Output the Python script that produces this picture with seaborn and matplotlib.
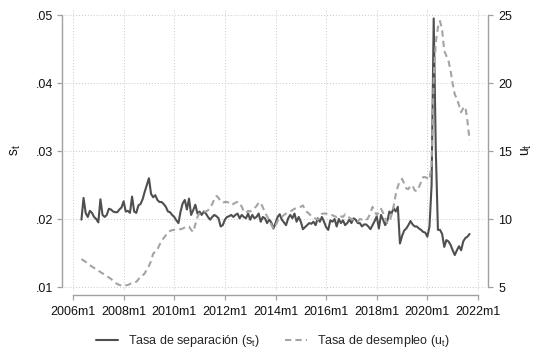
import numpy as np
import pandas as pd
import matplotlib
matplotlib.use('Agg')
import matplotlib.pyplot as plt
import seaborn as sns

# ---------------- data ----------------
start_month = '2006-05-01'

sep_rate = [
    .0199, .0231, .0209, .0203, .0212, .0209, .0203, .0200, .0195, .0229,
    .0206, .0203, .0206, .0215, .0214, .0211, .0210, .0210, .0214, .0217,
    .0226, .0211, .0212, .0209, .0233, .0211, .0209, .0220, .0222, .0229,
    .0240, .0250, .0260, .0237, .0232, .0235, .0228, .0225, .0225, .0222,
    .0218, .0211, .0210, .0206, .0203, .0198, .0194, .0211, .0223, .0228,
    .0214, .0230, .0206, .0213, .0221, .0208, .0211, .0206, .0211, .0208,
    .0203, .0199, .0203, .0206, .0204, .0201, .0189, .0191, .0199, .0203,
    .0204, .0206, .0203, .0206, .0208, .0201, .0206, .0203, .0201, .0208,
    .0199, .0206, .0201, .0203, .0208, .0196, .0203, .0201, .0194, .0199,
    .0195, .0186, .0194, .0203, .0207, .0199, .0195, .0191, .0201, .0206,
    .0201, .0208, .0196, .0203, .0196, .0185, .0188, .0191, .0194, .0193,
    .0196, .0191, .0201, .0196, .0203, .0196, .0188, .0184, .0198, .0196,
    .0200, .0189, .0200, .0194, .0198, .0191, .0194, .0199, .0194, .0201,
    .0199, .0194, .0194, .0189, .0192, .0192, .0189, .0185, .0191, .0197,
    .0204, .0186, .0206, .0199, .0191, .0197, .0211, .0208, .0216, .0211,
    .0218, .0164, .0175, .0183, .0186, .0191, .0197, .0192, .0189, .0189,
    .0186, .0184, .0181, .0180, .0174, .0189, .0250, .0495, .0300, .0184,
    .0184, .0178, .0159, .0169, .0167, .0162, .0154, .0147, .0154, .0160,
    .0154, .0167, .0172, .0174, .0178,
]

unemp_rate = [
    7.05, 6.95, 6.85, 6.70, 6.60, 6.50, 6.40, 6.30, 6.20, 6.10,
    6.00, 5.90, 5.80, 5.70, 5.60, 5.45, 5.32, 5.22, 5.15, 5.12,
    5.10, 5.12, 5.15, 5.22, 5.30, 5.35, 5.38, 5.55, 5.78, 5.85,
    6.00, 6.30, 6.55, 6.90, 7.45, 7.60, 7.75, 8.10, 8.40, 8.60,
    8.80, 9.00, 9.12, 9.18, 9.20, 9.22, 9.25, 9.25, 9.30, 9.38,
    9.45, 9.45, 9.20, 9.05, 9.60, 10.15, 10.45, 10.52, 10.55, 10.55,
    10.64, 10.85, 11.10, 11.45, 11.70, 11.55, 11.30, 11.20, 11.25, 11.25,
    11.20, 11.05, 11.10, 11.20, 11.25, 11.20, 10.90, 10.55, 10.45, 10.60,
    10.55, 10.70, 10.80, 10.95, 11.20, 11.20, 10.85, 10.50, 10.20, 9.90,
    9.60, 9.30, 9.50, 9.85, 10.05, 10.15, 10.30, 10.40, 10.50, 10.55,
    10.65, 10.75, 10.80, 10.85, 10.90, 11.00, 10.70, 10.50, 10.38, 10.20,
    10.10, 10.03, 9.95, 10.10, 10.38, 10.40, 10.40, 10.30, 10.28, 10.28,
    10.20, 10.15, 10.28, 10.20, 10.15, 10.35, 10.18, 10.10, 10.00, 9.92,
    9.85, 9.80, 10.00, 9.95, 9.91, 9.91, 10.10, 10.45, 10.89, 10.60,
    10.28, 10.50, 10.75, 10.45, 10.05, 9.70, 9.80, 10.30, 10.95, 11.80,
    12.40, 12.80, 12.95, 12.62, 12.25, 12.20, 12.45, 12.45, 12.10, 12.05,
    12.35, 12.72, 13.08, 13.08, 13.00, 12.90, 14.00, 20.40, 23.00, 24.10,
    24.56, 23.90, 22.36, 22.00, 21.63, 20.90, 19.95, 19.15, 18.85, 18.35,
    17.85, 18.15, 18.25, 17.20, 15.80,
]

xtick_years = [2006, 2008, 2010, 2012, 2014, 2016, 2018, 2020, 2022]
xtick_labels = ['2006m1', '2008m1', '2010m1', '2012m1', '2014m1',
                '2016m1', '2018m1', '2020m1', '2022m1']
left_ticks = [0.01, 0.02, 0.03, 0.04, 0.05]
left_labels = ['.01', '.02', '.03', '.04', '.05']
right_ticks = [5, 10, 15, 20, 25]
right_labels = ['5', '10', '15', '20', '25']

label_sep = 'Tasa de separación ($\\mathregular{s_t}$)'
label_unemp = 'Tasa de desempleo ($\\mathregular{u_t}$)'

# ---------------- frame ----------------
dates = pd.date_range(start_month, periods=len(sep_rate), freq='MS')
t = dates.year + (dates.month - 1) / 12.0
df = pd.DataFrame({'t': t, 'sep': sep_rate, 'unemp': unemp_rate})

sns.set_theme(style='white')
plt.rcParams['font.family'] = ['Liberation Sans', 'DejaVu Sans']
plt.rcParams['mathtext.fontset'] = 'custom'
plt.rcParams['mathtext.rm'] = 'Liberation Sans'
plt.rcParams['mathtext.it'] = 'Liberation Sans'

W, H = 538, 349
fig = plt.figure(figsize=(W / 100, H / 100), dpi=100)
fig.patch.set_facecolor('white')
ax = fig.add_axes([64 / W, 1 - 291 / H, 422 / W, 283 / H])
ax2 = ax.twinx()

solid_col = '#4f4f4f'
dash_col = '#a4a4a4'
axis_col = '#a0a0a0'

sns.lineplot(data=df, x='t', y='sep', ax=ax, color=solid_col, lw=1.5,
             label=label_sep, legend=False)
sns.lineplot(data=df, x='t', y='unemp', ax=ax2, color=dash_col, lw=1.5,
             linestyle=(0, (3.0, 2.0)), label=label_unemp, legend=False)

# scales
px_per_year = (478 - 73) / 16
x0 = 2006 - (73 - 64) / px_per_year
x1 = 2022 + (486 - 478) / px_per_year
ax.set_xlim(x0, x1)
px_per_s = (287 - 15) / 0.04
y0 = 0.01 - (291 - 287) / px_per_s
y1 = 0.05 + (15 - 8) / px_per_s
ax.set_ylim(y0, y1)
ax2.set_ylim(y0 * 500, y1 * 500)

ax.set_xticks(xtick_years)
ax.set_xticklabels(xtick_labels)
ax.set_yticks(left_ticks)
ax.set_yticklabels(left_labels)
ax2.set_yticks(right_ticks)
ax2.set_yticklabels(right_labels)
ax.set_xlabel('')
ax.set_ylabel('')
ax2.set_ylabel('')

# grid
ax.grid(True, which='major', axis='both', linestyle=(0, (1, 2)),
        color='#c8c8c8', lw=0.7)
ax2.grid(False)
ax.set_axisbelow(True)

# spines
for s in ['top', 'right']:
    ax.spines[s].set_visible(False)
for s in ['top', 'left', 'bottom']:
    ax2.spines[s].set_visible(False)
ax.spines['left'].set_position(('outward', 1.5))
ax.spines['left'].set_bounds(0.01, 0.05)
ax.spines['bottom'].set_position(('outward', 3))
ax.spines['bottom'].set_bounds(2006, 2022)
ax2.spines['right'].set_position(('outward', 1.5))
ax2.spines['right'].set_bounds(5, 25)
for sp in [ax.spines['left'], ax.spines['bottom'], ax2.spines['right']]:
    sp.set_color(axis_col)
    sp.set_linewidth(1.0)

ax.tick_params(axis='both', direction='out', length=3.5, width=0.9,
               color=axis_col, labelsize=9, pad=3, labelcolor='#111111')
ax.tick_params(axis='x', bottom=True, pad=4.5)
ax.tick_params(axis='y', left=True)
ax2.tick_params(axis='y', direction='out', length=3.5, width=0.9,
                color=axis_col, labelsize=9, pad=4, labelcolor='#111111',
                right=True)

# axis titles
fig.text(16 / W, 1 - 150 / H, '$\\mathregular{s_t}$', rotation=90,
         ha='center', va='center', fontsize=10, color='#111111')
fig.text(527 / W, 1 - 150 / H, '$\\mathregular{u_t}$', rotation=90,
         ha='center', va='center', fontsize=10, color='#111111')

# legend
h1, l1 = ax.get_legend_handles_labels()
h2, l2 = ax2.get_legend_handles_labels()
fig.legend(h1 + h2, l1 + l2, loc='center',
           bbox_to_anchor=(272.5 / W, 1 - 341 / H),
           ncol=2, frameon=False, fontsize=9, handlelength=1.75,
           columnspacing=2.0, handletextpad=0.8,
           borderpad=0, borderaxespad=0)

fig.savefig('out.png', dpi=100, facecolor='white')
